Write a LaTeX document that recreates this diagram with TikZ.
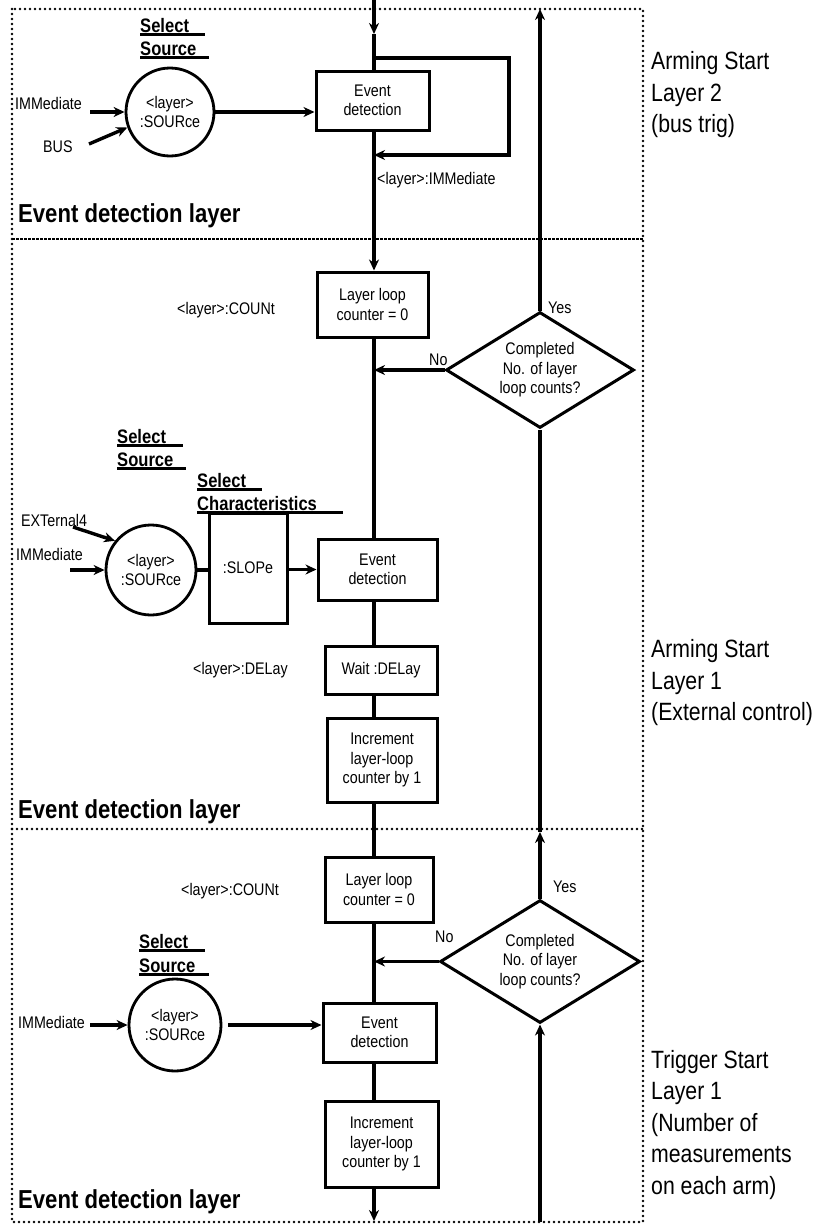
\documentclass[tikz,border=0pt]{standalone}
\usepackage{fontspec}
\setmainfont{Liberation Sans}[FakeStretch=0.85]
\usetikzlibrary{arrows.meta,shapes.geometric}
\newcommand\FtNorm{\fontsize{16.8}{19.5}\selectfont}
\newcommand\FtBig{\fontsize{25}{31.5}\selectfont}
\newcommand\FtSel{\fontsize{19.5}{23}\selectfont\bfseries}
\newcommand\FtEdl{\fontsize{26}{30}\selectfont\bfseries}
\begin{document}
\begin{tikzpicture}[x=1pt,y=-1pt,
  box/.style={draw, line width=3pt, inner sep=2pt, align=center, font=\FtNorm},
  circ/.style={draw, circle, line width=2.8pt, inner sep=0pt, align=center, font=\FtNorm},
  dec/.style={draw, diamond, aspect=1.62, line width=3pt, inner sep=0pt, align=center, font=\FtNorm},
  txt/.style={inner sep=0pt, font=\FtNorm},
  flow/.style={line width=3.4pt},
  arr/.style={line width=3.4pt, -{Stealth[length=11pt,width=10pt,inset=3.5pt]}},
  frame/.style={line width=2.6pt, dash pattern=on 0pt off 5pt, line cap=round},
  sel/.style={inner sep=0pt, font=\FtSel, anchor=base west},
  ul/.style={line width=2.2pt},
  edl/.style={inner sep=0pt, font=\FtEdl, anchor=base west},
  side/.style={inner sep=0pt, font=\FtBig, align=left, anchor=west}]
\useasboundingbox (0,0) rectangle (818,1226);
% frames
\draw[frame] (12,9) rectangle (643,1222);
\draw[line width=2pt, dash pattern=on 2.5pt off 1.5pt] (12,239) -- (643,239);
\draw[frame] (12,829) -- (643,829);
\coordinate (mx) at (374,0);
% ---------------- top section
\node[box, minimum width=113pt, minimum height=59pt] (ed1) at (372.5,100.5) {Event\\detection};
\node[circ, minimum size=88pt] (src1) at (170,112) {<layer>\\:SOURce};
\node[txt, anchor=west] (imm1) at (15,103) {IMMediate};
\node[txt, anchor=west] (bus1) at (43,147) {BUS};
\node[sel] (sel1) at (140,32) {Select};
\node[sel] (sou1) at (140,55) {Source};
\draw[ul] ([yshift=-2.5pt]sel1.base west) -- ++(65,0);
\draw[ul] ([yshift=-2.5pt]sou1.base west) -- ++(69,0);
\node[txt, anchor=west] (immlab) at (377,180) {<layer>:IMMediate};
\node[edl] (edl1) at (18,222) {Event detection layer};
\node[side] (lab1) at (651,95) {Arming Start\\Layer 2\\(bus trig)};
\coordinate (a1) at (90,112);
\coordinate (b1) at (89,144);
\draw[arr] (a1) -- (src1.west);
\draw[arr] (b1) -- (src1.200);
\draw[arr] (src1.east) -- (src1.east -| ed1.west);
\coordinate (tin) at (374,0);
\coordinate (tmid) at (374,34);
\draw[arr] (tin) -- (tmid);
\draw[flow] (tmid) -- (ed1.north -| mx);
\coordinate (la) at (374,58);
\coordinate (lc) at (509,155);
\draw[arr] (la) -| (lc) -- (lc -| mx);
% ---------------- middle section
\node[box, minimum width=111pt, minimum height=65pt] (lp1) at (372.5,304.5) {Layer loop\\counter = 0};
\node[txt, anchor=west] (cnt1) at (177,310) {<layer>:COUNt};
\node[dec, minimum width=188pt, minimum height=116pt] (dia1) at (540,370) {Completed\\No. of layer\\loop counts?};
\node[txt, anchor=west] (yes1) at (548,308) {Yes};
\node[txt, anchor=west] (no1) at (429,360) {No};
\node[sel] (sel2) at (117,443) {Select};
\node[sel] (sou2) at (117,466) {Source};
\draw[ul] ([yshift=-2.5pt]sel2.base west) -- ++(66,0);
\draw[ul] ([yshift=-2.5pt]sou2.base west) -- ++(69,0);
\node[sel] (selc) at (197,487) {Select};
\node[sel] (chr) at (197,510) {Characteristics};
\draw[ul] ([yshift=-2.5pt]selc.base west) -- ++(65,0);
\draw[ul] ([yshift=-2.5pt]chr.base west) -- ++(146,0);
\node[circ, minimum size=90pt] (src2) at (151,570) {<layer>\\:SOURce};
\node[txt, anchor=west] (ext) at (21,520) {EXTernal4};
\node[txt, anchor=west] (imm2) at (16,554) {IMMediate};
\node[box, minimum width=78pt, minimum height=110pt] (slope) at (248,568) {:SLOPe};
\node[box, minimum width=119pt, minimum height=61pt] (ed2) at (377.5,569.5) {Event\\detection};
\node[txt, anchor=west] (dl) at (193,670) {<layer>:DELay};
\node[box, minimum width=112pt, minimum height=48pt] (wait) at (381,670) {Wait :DELay};
\node[box, minimum width=110pt, minimum height=84pt] (inc2) at (382,760) {Increment\\layer-loop\\counter by 1};
\node[edl] (edl2) at (18,818) {Event detection layer};
\node[side] (lab2) at (651,683) {Arming Start\\Layer 1\\(External control)};
\coordinate (e2) at (73,527);
\coordinate (i2) at (70,570);
\draw[arr] (e2) -- (src2.141);
\draw[arr] (i2) -- (src2.west);
\draw[flow] (src2.east) -- (src2.east -| slope.west);
\draw[arr] (slope.east |- ed2.west) -- (ed2.west);
\draw[arr] (ed1.south -| mx) -- (lp1.north -| mx);
\draw[flow] (lp1.south -| mx) -- (ed2.north -| mx);
\draw[arr] (dia1.west) -- (dia1.west -| mx);
\coordinate (rtop) at (540,9);
\draw[arr] (dia1.north) -- (rtop);
\draw[flow] (ed2.south -| mx) -- (wait.north -| mx);
\draw[flow] (wait.south -| mx) -- (inc2.north -| mx);
% ---------------- bottom section
\node[box, minimum width=108pt, minimum height=65pt] (lp3) at (379,889.5) {Layer loop\\counter = 0};
\node[txt, anchor=west] (cnt3) at (181,891) {<layer>:COUNt};
\node[dec, minimum width=200pt, minimum height=123pt] (dia3) at (540,961.5) {Completed\\No. of layer\\loop counts?};
\node[txt, anchor=west] (yes3) at (553,887) {Yes};
\node[txt, anchor=west] (no3) at (435,937) {No};
\node[sel] (sel3) at (139,948) {Select};
\node[sel] (sou3) at (139,972) {Source};
\draw[ul] ([yshift=-2.5pt]sel3.base west) -- ++(66,0);
\draw[ul] ([yshift=-2.5pt]sou3.base west) -- ++(70,0);
\node[circ, minimum size=92pt] (src3) at (175,1025) {<layer>\\:SOURce};
\node[txt, anchor=west] (imm3) at (18,1022) {IMMediate};
\node[box, minimum width=113pt, minimum height=59pt] (ed3) at (379.5,1032.5) {Event\\detection};
\node[box, minimum width=113pt, minimum height=86pt] (inc3) at (381.5,1144) {Increment\\layer-loop\\counter by 1};
\node[edl] (edl3) at (18,1208) {Event detection layer};
\node[side] (lab3) at (651,1125) {Trigger Start\\Layer 1\\(Number of\\measurements\\on each arm)};
\coordinate (i3) at (90,1025);
\draw[arr] (i3) -- (src3.west);
\draw[arr, shorten <=6pt] (src3.east) -- (src3.east -| ed3.west);
\draw[flow] (inc2.south -| mx) -- (lp3.north -| mx);
\draw[flow] (lp3.south -| mx) -- (ed3.north -| mx);
\draw[arr] (dia3.west) -- (dia3.west -| mx);
\draw[flow] (ed3.south -| mx) -- (inc3.north -| mx);
\coordinate (bout) at (374,1221);
\draw[arr] (inc3.south -| mx) -- (bout);
\coordinate (upmid) at (540,832);
\draw[arr] (dia3.north) -- (upmid);
\draw[flow] (upmid) -- (dia1.south);
\coordinate (rbot) at (540,1222);
\draw[arr] (rbot) -- (dia3.south);
\end{tikzpicture}
\end{document}
